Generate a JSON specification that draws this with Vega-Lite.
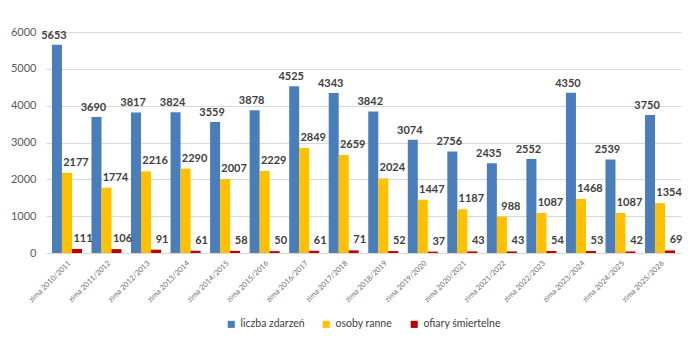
{
  "$schema": "https://vega.github.io/schema/vega-lite/v6.json",
  "width": 700,
  "height": 350,
  "autosize": {"type": "fit", "contains": "padding"},
  "padding": {"left": 10, "top": 26, "right": 18, "bottom": 20},
  "background": "white",
  "config": {
    "font": "Lato",
    "view": {"stroke": null},
    "axis": {"labelColor": "#595959", "domain": false, "ticks": false},
    "legend": {"labelColor": "#404040", "layout": {"bottom": {"anchor": "middle"}}}
  },
  "data": {
    "values": [
      {"sezon": "zima 2010/2011", "seria": "liczba zdarzeń", "wartosc": 5653},
      {"sezon": "zima 2010/2011", "seria": "osoby ranne", "wartosc": 2177},
      {"sezon": "zima 2010/2011", "seria": "ofiary śmiertelne", "wartosc": 111},
      {"sezon": "zima 2011/2012", "seria": "liczba zdarzeń", "wartosc": 3690},
      {"sezon": "zima 2011/2012", "seria": "osoby ranne", "wartosc": 1774},
      {"sezon": "zima 2011/2012", "seria": "ofiary śmiertelne", "wartosc": 106},
      {"sezon": "zima 2012/2013", "seria": "liczba zdarzeń", "wartosc": 3817},
      {"sezon": "zima 2012/2013", "seria": "osoby ranne", "wartosc": 2216},
      {"sezon": "zima 2012/2013", "seria": "ofiary śmiertelne", "wartosc": 91},
      {"sezon": "zima 2013/2014", "seria": "liczba zdarzeń", "wartosc": 3824},
      {"sezon": "zima 2013/2014", "seria": "osoby ranne", "wartosc": 2290},
      {"sezon": "zima 2013/2014", "seria": "ofiary śmiertelne", "wartosc": 61},
      {"sezon": "zima 2014/2015", "seria": "liczba zdarzeń", "wartosc": 3559},
      {"sezon": "zima 2014/2015", "seria": "osoby ranne", "wartosc": 2007},
      {"sezon": "zima 2014/2015", "seria": "ofiary śmiertelne", "wartosc": 58},
      {"sezon": "zima 2015/2016", "seria": "liczba zdarzeń", "wartosc": 3878},
      {"sezon": "zima 2015/2016", "seria": "osoby ranne", "wartosc": 2229},
      {"sezon": "zima 2015/2016", "seria": "ofiary śmiertelne", "wartosc": 50},
      {"sezon": "zima 2016/2017", "seria": "liczba zdarzeń", "wartosc": 4525},
      {"sezon": "zima 2016/2017", "seria": "osoby ranne", "wartosc": 2849},
      {"sezon": "zima 2016/2017", "seria": "ofiary śmiertelne", "wartosc": 61},
      {"sezon": "zima 2017/2018", "seria": "liczba zdarzeń", "wartosc": 4343},
      {"sezon": "zima 2017/2018", "seria": "osoby ranne", "wartosc": 2659},
      {"sezon": "zima 2017/2018", "seria": "ofiary śmiertelne", "wartosc": 71},
      {"sezon": "zima 2018/2019", "seria": "liczba zdarzeń", "wartosc": 3842},
      {"sezon": "zima 2018/2019", "seria": "osoby ranne", "wartosc": 2024},
      {"sezon": "zima 2018/2019", "seria": "ofiary śmiertelne", "wartosc": 52},
      {"sezon": "zima 2019/2020", "seria": "liczba zdarzeń", "wartosc": 3074},
      {"sezon": "zima 2019/2020", "seria": "osoby ranne", "wartosc": 1447},
      {"sezon": "zima 2019/2020", "seria": "ofiary śmiertelne", "wartosc": 37},
      {"sezon": "zima 2020/2021", "seria": "liczba zdarzeń", "wartosc": 2756},
      {"sezon": "zima 2020/2021", "seria": "osoby ranne", "wartosc": 1187},
      {"sezon": "zima 2020/2021", "seria": "ofiary śmiertelne", "wartosc": 43},
      {"sezon": "zima 2021/2022", "seria": "liczba zdarzeń", "wartosc": 2435},
      {"sezon": "zima 2021/2022", "seria": "osoby ranne", "wartosc": 988},
      {"sezon": "zima 2021/2022", "seria": "ofiary śmiertelne", "wartosc": 43},
      {"sezon": "zima 2022/2023", "seria": "liczba zdarzeń", "wartosc": 2552},
      {"sezon": "zima 2022/2023", "seria": "osoby ranne", "wartosc": 1087},
      {"sezon": "zima 2022/2023", "seria": "ofiary śmiertelne", "wartosc": 54},
      {"sezon": "zima 2023/2024", "seria": "liczba zdarzeń", "wartosc": 4350},
      {"sezon": "zima 2023/2024", "seria": "osoby ranne", "wartosc": 1468},
      {"sezon": "zima 2023/2024", "seria": "ofiary śmiertelne", "wartosc": 53},
      {"sezon": "zima 2024/2025", "seria": "liczba zdarzeń", "wartosc": 2539},
      {"sezon": "zima 2024/2025", "seria": "osoby ranne", "wartosc": 1087},
      {"sezon": "zima 2024/2025", "seria": "ofiary śmiertelne", "wartosc": 42},
      {"sezon": "zima 2025/2026", "seria": "liczba zdarzeń", "wartosc": 3750},
      {"sezon": "zima 2025/2026", "seria": "osoby ranne", "wartosc": 1354},
      {"sezon": "zima 2025/2026", "seria": "ofiary śmiertelne", "wartosc": 69}
    ]
  },
  "encoding": {
    "x": {
      "field": "sezon",
      "type": "nominal",
      "sort": null,
      "title": null,
      "scale": {"paddingInner": 0.24, "paddingOuter": 0.15},
      "axis": {"labelAngle": -45, "labelFontSize": 7.5, "labelPadding": 6, "labelColor": "#6b6b6b"}
    },
    "y": {
      "field": "wartosc",
      "type": "quantitative",
      "title": null,
      "scale": {"domain": [0, 6000], "nice": false},
      "axis": {"values": [0, 1000, 2000, 3000, 4000, 5000, 6000], "format": "d", "labelFontSize": 11, "gridColor": "#D9D9D9", "labelPadding": 10}
    },
    "xOffset": {
      "field": "seria",
      "type": "nominal",
      "sort": ["liczba zdarzeń", "osoby ranne", "ofiary śmiertelne"],
      "scale": {"paddingInner": 0}
    }
  },
  "layer": [
    {
      "mark": {"type": "bar", "stroke": null},
      "encoding": {
        "color": {
          "field": "seria",
          "type": "nominal",
          "sort": ["liczba zdarzeń", "osoby ranne", "ofiary śmiertelne"],
          "scale": {"domain": ["liczba zdarzeń", "osoby ranne", "ofiary śmiertelne"], "range": ["#4A7EBB", "#FFC000", "#C00000"]},
          "legend": {"orient": "bottom", "direction": "horizontal", "title": null, "symbolType": "square", "symbolSize": 50, "labelFontSize": 10.5, "columnPadding": 16, "offset": 15}
        }
      }
    },
    {
      "transform": [{"filter": "datum.seria === 'liczba zdarzeń'"}],
      "mark": {"type": "text", "dy": -9, "dx": -3, "fontWeight": "bold", "fontSize": 11, "color": "#404040"},
      "encoding": {"text": {"field": "wartosc", "type": "quantitative", "format": "d"}}
    },
    {
      "transform": [{"filter": "datum.seria === 'osoby ranne'"}],
      "mark": {"type": "text", "dy": -10, "dx": 9, "fontWeight": "bold", "fontSize": 11, "color": "#404040"},
      "encoding": {"text": {"field": "wartosc", "type": "quantitative", "format": "d"}}
    },
    {
      "transform": [{"filter": "datum.seria === 'ofiary śmiertelne'"}],
      "mark": {"type": "text", "dy": -10, "dx": 6, "fontWeight": "bold", "fontSize": 11, "color": "#404040"},
      "encoding": {"text": {"field": "wartosc", "type": "quantitative", "format": "d"}}
    }
  ]
}
